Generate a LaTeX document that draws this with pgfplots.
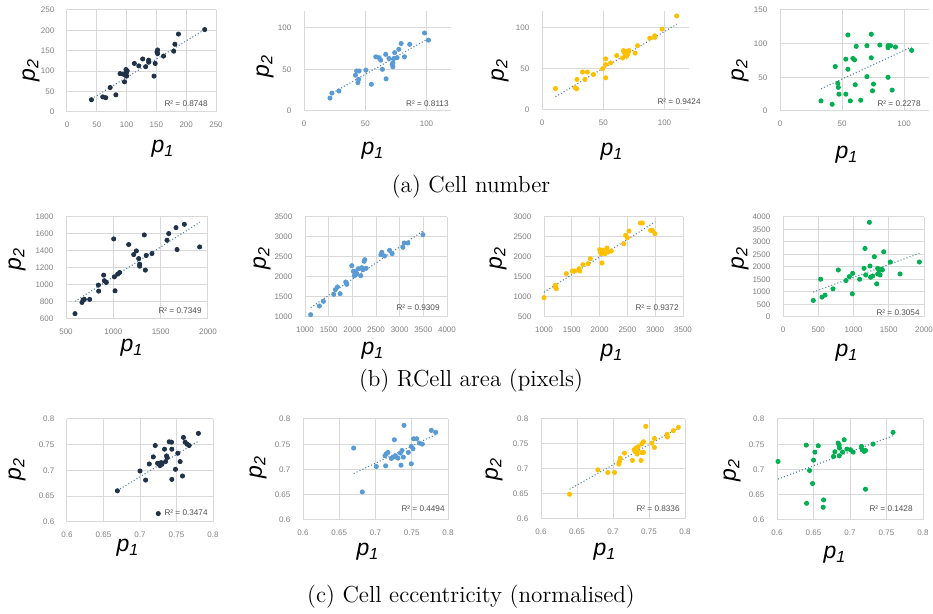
\documentclass[border=0pt]{standalone}
\usepackage{fontspec}
\usepackage{pgfplots}
\pgfplotsset{compat=1.18}
\newfontfamily\arial{Liberation Sans}
\definecolor{gridc}{HTML}{D9D9D9}
\definecolor{tickc}{HTML}{808080}
\definecolor{rtc}{HTML}{505050}
\definecolor{trendc}{HTML}{4F81A8}
\definecolor{c1}{HTML}{1F3247}
\definecolor{c2}{HTML}{5B9BD5}
\definecolor{c3}{HTML}{FFC000}
\definecolor{c4}{HTML}{00B050}
\pgfplotsset{
  pstyle/.style={
    scale only axis, anchor=south west,
    axis x line=bottom, axis y line=left,
    axis line style={-, draw=gridc, line width=0.5pt},
    grid=major, major grid style={draw=gridc, line width=0.5pt},
    major tick length=0pt, tick style={draw=none},
    tick label style={font=\arial\fontsize{4}{4.8}\selectfont, text=tickc},
    xticklabel style={yshift=-1.6pt},
    yticklabel style={xshift=-2.8pt},
    /pgf/number format/assume math mode=true,
    /pgf/number format/1000 sep={},
    scaled ticks=false, clip=false,
  },
  pts/.style={only marks, mark=*, mark size=1.05pt, mark options={draw=#1, fill=#1}},
  tr/.style={trendc, line width=0.55pt, dash pattern=on 0.5pt off 1.1pt, no marks},
}
\newcommand{\pl}[1]{{\arial\itshape\fontsize{11.5}{12}\selectfont p\textsubscript{#1}}}
\newcommand{\rt}[1]{{\arial\fontsize{4.1}{5}\selectfont\color{rtc}R² = #1}}
\begin{document}
\begin{tikzpicture}[x=0.5pt,y=-0.5pt]
\path[use as bounding box] (0,0) rectangle (933,614);
% ---------- Row a ----------
\begin{axis}[pstyle, at={(33.5pt,-56pt)}, width=74.5pt, height=51pt,
  xmin=0, xmax=250, ymin=0, ymax=250, xtick={0,50,...,250}, ytick={0,50,...,250}]
\addplot[pts=c1] coordinates {(41,30)(60,37)(65,35)(72.5,60)(82,42)(89,94)(94,93)(96.5,74)(98,90)(99,104)(100,98)(99,94)(100,88)(101,101)(113,119)(120.5,113)(127,130)(132,111)(137,127)(137,122)(146,88)(148,119)(151,147)(152,152)(152,143)(162,137)(179,149)(181,166)(187,191)(231,202)};
\addplot[tr] coordinates {(41,32)(231,202)};
\end{axis}
\begin{axis}[pstyle, at={(152pt,-55.5pt)}, width=73.5pt, height=50pt,
  xmin=0, xmax=120, ymin=0, ymax=120, xtick={0,50,100}, ytick={0,50,100}]
\addplot[pts=c2] coordinates {(21.2,15.5)(22.8,21.5)(28.5,24)(42,43)(43,48)(45,48)(44,34)(44.6,38)(50.5,49)(55,32)(58.6,65)(61.3,64)(62.6,61)(64,50)(66.7,68)(67,38.6)(69.4,63)(72,56)(72.6,53)(72.6,58)(73.4,63)(74,70)(76,64)(77.4,74)(79.3,81)(82,65)(86.3,80)(98.4,93.6)(101.6,85)};
\addplot[tr] coordinates {(21.2,20)(101.6,87)};
\end{axis}
\begin{axis}[pstyle, at={(271pt,-55pt)}, width=73.5pt, height=49.5pt,
  xmin=0, xmax=120, ymin=0, ymax=120, xtick={0,50,100}, ytick={0,50,100}]
\addplot[pts=c3] coordinates {(11,26)(27,27)(28.4,25.7)(28.6,37)(33,46)(35,37)(37,46)(42,43)(49.5,50)(52,39)(52,62)(52,55)(56,57)(61,66)(65.7,63)(66.5,72)(67,70)(68,66)(69,71)(70,68)(71,72)(69,65)(76,69)(78,78)(88,87)(92,88)(92,90)(98,98)(110,114)};
\addplot[tr] coordinates {(11,16)(110,104)};
\end{axis}
\begin{axis}[pstyle, at={(390pt,-55.5pt)}, width=74.5pt, height=50.5pt,
  xmin=0, xmax=120, ymin=0, ymax=150, xtick={0,50,100}, ytick={0,50,100,150}]
\addplot[pts=c4] coordinates {(33,15)(42,10)(44.5,66)(46.6,41)(47,35)(47.5,25)(53,25)(53,77)(54.7,113)(54.7,62)(56.6,15)(58.7,78)(60,76)(60.6,39)(61.4,96)(65,16)(70,97)(70,51)(73.5,114)(73.5,79)(74.5,30)(75.3,40)(80.4,98)(87,94)(87,97)(87,50)(89,97)(90.3,31)(93,95)(106,90)};
\addplot[tr] coordinates {(33,33)(106,95)};
\end{axis}
% ---------- Row b ----------
\begin{axis}[pstyle, at={(33pt,-159.5pt)}, width=71pt, height=51pt,
  xmin=500, xmax=2000, ymin=600, ymax=1800, xtick={500,1000,1500,2000}, ytick={600,800,...,1800}]
\addplot[pts=c1] coordinates {(595,663)(669,795)(680,823)(694,831)(750,831)(845,928)(842,999)(898,1116)(905,1050)(926,1030)(1004,1542)(1011,1096)(1018,932)(1046,1128)(1067,1147)(1162,1476)(1215,1358)(1243,1401)(1268,1311)(1278,1245)(1278,1222)(1327,1589)(1338,1175)(1347,1347)(1408,1370)(1567,1527)(1585,1605)(1662,1675)(1673,1417)(1750,1714)(1912,1448)};
\addplot[tr] coordinates {(595,808)(1912,1738)};
\end{axis}
\begin{axis}[pstyle, at={(152.5pt,-158.5pt)}, width=71pt, height=50pt,
  xmin=1000, xmax=4000, ymin=1000, ymax=3500, xtick={1000,1500,...,4000}, ytick={1000,1500,...,3500}]
\addplot[pts=c2] coordinates {(1120,1058)(1303,1275)(1388,1392)(1607,1567)(1642,1683)(1685,1750)(1741,1583)(1861,1875)(1882,1817)(1988,2283)(2023,2142)(2044,2033)(2072,2142)(2094,2083)(2129,2208)(2178,2033)(2200,2233)(2220,2183)(2249,2392)(2263,2433)(2291,2217)(2602,2558)(2623,2617)(2680,2525)(2786,2667)(2842,2583)(3068,2742)(3096,2850)(3174,2850)(3491,3058)};
\addplot[tr] coordinates {(1120,1235)(3491,3150)};
\end{axis}
\begin{axis}[pstyle, at={(272pt,-158.5pt)}, width=69.5pt, height=50pt,
  xmin=1000, xmax=3500, ymin=500, ymax=3000, xtick={1000,1500,...,3500}, ytick={500,1000,...,3000}]
\addplot[pts=c3] coordinates {(1000,983)(1204,1292)(1210,1233)(1222,1208)(1402,1583)(1510,1650)(1552,1650)(1630,1708)(1642,1650)(1701,1808)(1791,1833)(1833,1958)(2001,2183)(2013,2125)(2031,2083)(2043,1850)(2061,2167)(2097,2083)(2133,2225)(2151,2125)(2211,2150)(2433,2333)(2469,2542)(2499,2483)(2529,2650)(2733,2850)(2769,2850)(2918,2667)(2948,2667)(2996,2583)};
\addplot[tr] coordinates {(1000,1120)(3000,2880)};
\end{axis}
\begin{axis}[pstyle, at={(391.5pt,-158.5pt)}, width=70.5pt, height=50pt,
  xmin=0, xmax=2000, ymin=0, ymax=4000, xtick={0,500,...,2000}, ytick={0,500,...,4000}]
\addplot[pts=c4] coordinates {(430,662)(534,1510)(553,795)(596,874)(709,1126)(785,1881)(894,1457)(941,1616)(988,1748)(983,927)(1087,1510)(1149,1947)(1163,2742)(1173,1682)(1225,3788)(1234,2040)(1243,1589)(1272,1642)(1296,2411)(1329,1325)(1343,1947)(1343,1722)(1362,1854)(1376,1682)(1400,1907)(1410,1881)(1428,2609)(1522,2199)(1660,1722)(1934,2199)};
\addplot[tr] coordinates {(430,1000)(1934,2545)};
\end{axis}
% ---------- Row c ----------
\begin{axis}[pstyle, at={(33.5pt,-261pt)}, width=73pt, height=51.5pt,
  xmin=0.6, xmax=0.8, ymin=0.6, ymax=0.8, xtick={0.6,0.65,0.7,0.75,0.8}, ytick={0.6,0.65,0.7,0.75,0.8}]
\addplot[pts=c1] coordinates {(0.669,0.6606)(0.700,0.699)(0.7077,0.6814)(0.7127,0.7127)(0.7182,0.7264)(0.7209,0.7485)(0.7241,0.714)(0.725,0.6163)(0.7273,0.7094)(0.7291,0.7153)(0.73,0.712)(0.7336,0.7414)(0.735,0.7173)(0.7364,0.7283)(0.7373,0.725)(0.74,0.7557)(0.7432,0.755)(0.7436,0.7414)(0.7436,0.6827)(0.7486,0.7023)(0.7518,0.7335)(0.755,0.7173)(0.7582,0.6893)(0.7595,0.7642)(0.7618,0.755)(0.7645,0.7511)(0.7673,0.7485)(0.78,0.772)};
\addplot[tr] coordinates {(0.669,0.661)(0.78,0.757)};
\end{axis}
\begin{axis}[pstyle, at={(151.5pt,-260pt)}, width=72.5pt, height=50.5pt,
  xmin=0.6, xmax=0.8, ymin=0.6, ymax=0.8, xtick={0.6,0.65,0.7,0.75,0.8}, ytick={0.6,0.65,0.7,0.75,0.8}]
\addplot[pts=c2] coordinates {(0.6699,0.7424)(0.6818,0.6556)(0.7011,0.706)(0.714,0.7073)(0.7131,0.7272)(0.7149,0.7311)(0.7172,0.7338)(0.7218,0.7219)(0.7241,0.7245)(0.726,0.7589)(0.7274,0.7272)(0.7287,0.7245)(0.731,0.7225)(0.7343,0.7325)(0.7352,0.7086)(0.7366,0.7377)(0.7384,0.7245)(0.7393,0.7874)(0.7453,0.7338)(0.7494,0.7113)(0.7494,0.7457)(0.7517,0.7411)(0.7526,0.7609)(0.7568,0.7609)(0.7605,0.7523)(0.7646,0.7503)(0.777,0.7775)(0.783,0.7735)};
\addplot[tr] coordinates {(0.67,0.692)(0.783,0.769)};
\end{axis}
\begin{axis}[pstyle, at={(270.5pt,-259.5pt)}, width=72pt, height=50pt,
  xmin=0.6, xmax=0.8, ymin=0.6, ymax=0.8, xtick={0.6,0.65,0.7,0.75,0.8}, ytick={0.6,0.65,0.7,0.75,0.8}]
\addplot[pts=c3] coordinates {(0.6397,0.6495)(0.679,0.6983)(0.6928,0.693)(0.7021,0.693)(0.7081,0.7097)(0.709,0.715)(0.71,0.7217)(0.7159,0.7318)(0.727,0.7171)(0.7293,0.7385)(0.731,0.7345)(0.732,0.7418)(0.7335,0.7358)(0.735,0.7445)(0.7335,0.7298)(0.74,0.7331)(0.7423,0.7331)(0.739,0.7171)(0.7423,0.7545)(0.74,0.7505)(0.7455,0.7853)(0.7538,0.7518)(0.7575,0.7612)(0.7575,0.7431)(0.7751,0.7692)(0.7755,0.7639)(0.7838,0.7766)(0.7908,0.7833)};
\addplot[tr] coordinates {(0.6397,0.6595)(0.7908,0.782)};
\end{axis}
\begin{axis}[pstyle, at={(388.5pt,-260pt)}, width=73pt, height=50.5pt,
  xmin=0.6, xmax=0.8, ymin=0.6, ymax=0.8, xtick={0.6,0.65,0.7,0.75,0.8}, ytick={0.6,0.65,0.7,0.75,0.8}]
\addplot[pts=c4] coordinates {(0.6014,0.7159)(0.6401,0.7483)(0.6405,0.6331)(0.6446,0.698)(0.6487,0.6722)(0.6501,0.7185)(0.6519,0.7344)(0.6565,0.747)(0.6638,0.6397)(0.6633,0.6252)(0.6774,0.7258)(0.6793,0.7351)(0.6838,0.7523)(0.6852,0.7272)(0.6856,0.7424)(0.6852,0.7483)(0.6897,0.7344)(0.692,0.7589)(0.6957,0.7404)(0.7007,0.7391)(0.7043,0.7344)(0.7157,0.7457)(0.7166,0.7391)(0.7194,0.7358)(0.7212,0.7377)(0.7212,0.6609)(0.7317,0.7503)(0.759,0.7735)};
\addplot[tr] coordinates {(0.6014,0.681)(0.759,0.767)};
\end{axis}
% ---------- R^2 labels ----------
\node[anchor=east, inner sep=0pt] at (208,104) {\rt{0.8748}};
\node[anchor=east, inner sep=0pt] at (449,104) {\rt{0.8113}};
\node[anchor=east, inner sep=0pt] at (701,102) {\rt{0.9424}};
\node[anchor=east, inner sep=0pt] at (921,104) {\rt{0.2278}};
\node[anchor=east, inner sep=0pt] at (202,311) {\rt{0.7349}};
\node[anchor=east, inner sep=0pt] at (440,308) {\rt{0.9309}};
\node[anchor=east, inner sep=0pt] at (679,308) {\rt{0.9372}};
\node[anchor=east, inner sep=0pt] at (920,313) {\rt{0.3054}};
\node[anchor=east, inner sep=0pt] at (208,513) {\rt{0.3474}};
\node[anchor=east, inner sep=0pt] at (445,509) {\rt{0.4494}};
\node[anchor=east, inner sep=0pt] at (680,509) {\rt{0.8336}};
\node[anchor=east, inner sep=0pt] at (913,509) {\rt{0.1428}};
% ---------- axis labels ----------
\foreach \xx/\yy in {31/70,265/66,500/70,740/70,17/259,262/258,498/258,740/258,17/469,258/467,494/469,732/470}
  \node[rotate=90, inner sep=0pt] at (\xx,\yy) {\pl{2}};
\foreach \xx/\yy in {163/149,373/151,612/152,847/155,132/348,373/351,612/353,847/353,128/548,368/552,605/552,835/555}
  \node[inner sep=0pt] at (\xx,\yy) {\pl{1}};
% ---------- captions ----------
\node[font=\fontsize{11.6}{13}\selectfont] at (471,187) {(a) Cell number};
\node[font=\fontsize{11.6}{13}\selectfont] at (471,381) {(b) RCell area (pixels)};
\node[font=\fontsize{11.6}{13}\selectfont] at (471,597) {(c) Cell eccentricity (normalised)};
\end{tikzpicture}
\end{document}
